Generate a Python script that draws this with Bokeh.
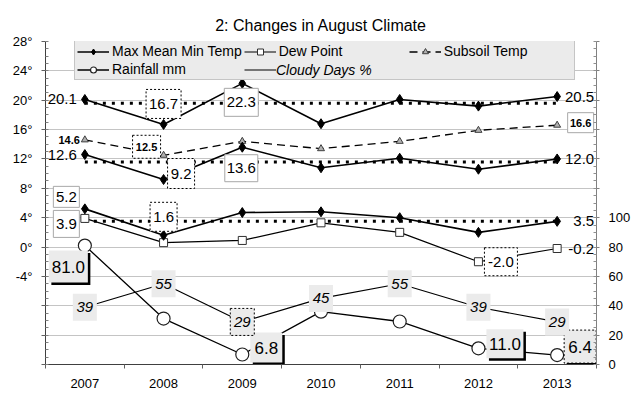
from bokeh.plotting import figure
from bokeh.models import Range1d, LinearAxis, FixedTicker, Legend, LegendItem
from bokeh.core.properties import value
from bokeh.embed import file_html
from bokeh.resources import INLINE

# ---------------- data ----------------
years = ["2007", "2008", "2009", "2010", "2011", "2012", "2013"]
max_temp = [20.1, 16.7, 22.3, 16.8, 20.1, 19.2, 20.5]
mean_temp = [12.6, 9.2, 13.6, 10.8, 12.1, 10.6, 12.0]
min_temp = [5.2, 1.6, 4.7, 4.8, 4.0, 2.0, 3.5]
dew_point = [3.9, 0.6, 0.9, 3.3, 2.0, -2.0, -0.2]
subsoil = [14.6, 12.5, 14.4, 13.4, 14.4, 15.9, 16.6]
rainfall = [81.0, 31.3, 6.8, 36.0, 29.3, 11.0, 6.4]
cloudy = [39, 55, 29, 45, 55, 39, 29]
avg_levels = [19.6, 11.6, 3.5]   # dotted reference lines (max, mean, min)
left_ticks = [-16, -12, -8, -4, 0, 4, 8, 12, 16, 20, 24, 28]
left_labelled = [-4, 0, 4, 8, 12, 16, 20, 24, 28]
right_ticks = [0, 20, 40, 60, 80, 100, 120, 140, 160, 180, 200, 220]
right_labelled = [0, 20, 40, 60, 80, 100]

FONT = value("Liberation Sans")
n = len(years)
idx = list(range(n))
FW, FH = 551, 323
LMIN, LMAX = left_ticks[0], left_ticks[-1]
RMIN, RMAX = right_ticks[0], right_ticks[-1]

p = figure(frame_width=FW, frame_height=FH,
           x_range=Range1d(-0.5, n - 0.5), y_range=Range1d(LMIN, LMAX),
           output_backend="svg", toolbar_location=None,
           min_border_left=45, min_border_right=44, min_border_top=41, min_border_bottom=39,
           title="2: Changes in August Climate")
p.extra_y_ranges = {"right": Range1d(RMIN, RMAX)}
p.background_fill_color = "white"
p.border_fill_color = "white"
p.outline_line_color = None
p.title.align = "center"
p.title.text_font = "Liberation Sans"
p.title.text_font_size = "16px"
p.title.text_font_style = "normal"
p.title.text_color = "black"
p.title.standoff = 16

# x axis
xa = p.xaxis[0]
xa.ticker = FixedTicker(ticks=idx, minor_ticks=[i - 0.5 for i in range(n + 1)])
xa.major_label_overrides = {i: y for i, y in zip(idx, years)}
xa.major_tick_line_color = None
xa.major_tick_out = 0
xa.major_tick_in = 0
xa.minor_tick_out = 4
xa.minor_tick_in = 0
xa.minor_tick_line_color = "#606060"
xa.axis_line_color = "#404040"
xa.major_label_standoff = 10
xa.major_label_text_font = "Liberation Sans"
xa.major_label_text_font_size = "13px"
xa.major_label_text_color = "black"

# left axis
ya = p.yaxis[0]
ya.ticker = FixedTicker(ticks=left_ticks, minor_ticks=list(range(LMIN, LMAX + 1)))
ya.major_label_overrides = {t: (f"{t}\u00b0" if t in left_labelled else "") for t in left_ticks}
ya.major_tick_out = 4
ya.major_tick_in = 0
ya.minor_tick_out = 0
ya.minor_tick_in = 3
ya.axis_line_color = "#404040"
ya.major_tick_line_color = "#606060"
ya.minor_tick_line_color = "#808080"
ya.major_label_standoff = 9
ya.major_label_text_font = "Liberation Sans"
ya.major_label_text_font_size = "13px"
ya.major_label_text_color = "black"

# right axis
ra = LinearAxis(y_range_name="right")
ra.ticker = FixedTicker(ticks=right_ticks, minor_ticks=list(range(RMIN, RMAX + 1, 5)))
ra.major_label_overrides = {t: (str(t) if t in right_labelled else "") for t in right_ticks}
ra.major_tick_out = 3
ra.major_tick_in = 0
ra.minor_tick_out = 0
ra.minor_tick_in = 3
ra.axis_line_color = "#808080"
ra.major_tick_line_color = "#808080"
ra.minor_tick_line_color = "#909090"
ra.major_label_standoff = 9
ra.major_label_text_font = "Liberation Sans"
ra.major_label_text_font_size = "13px"
ra.major_label_text_color = "black"
p.add_layout(ra, "right")

p.xgrid.grid_line_color = None
p.ygrid.ticker = FixedTicker(ticks=left_ticks)
p.ygrid.grid_line_color = "#c4c4c4"
p.ygrid.grid_line_width = 1

# dotted reference lines
for lv in avg_levels:
    p.line([idx[0], idx[-1]], [lv, lv], line_color="black", line_width=3, line_dash="3 6")

# series
r_sub_l = p.line(idx, subsoil, line_color="black", line_width=1.3, line_dash="8 5")
r_sub_s = p.scatter(idx, subsoil, marker="triangle", size=7, fill_color="#b0b0b0", line_color="#404040")
r_dew_l = p.line(idx, dew_point, line_color="black", line_width=1.2)
r_dew_s = p.scatter(idx, dew_point, marker="square", size=8, fill_color="white", line_color="#303030")
r_max_l = None
r_max_s = None
for arr in (max_temp, mean_temp, min_temp):
    l = p.line(idx, arr, line_color="black", line_width=1.6)
    s = p.scatter(idx, arr, marker="diamond", size=10, fill_color="black", line_color="black")
    if r_max_l is None:
        r_max_l, r_max_s = l, s
r_cloud = p.line(idx, cloudy, line_color="black", line_width=1.2, y_range_name="right")
r_ghost = p.line(idx, cloudy, line_alpha=0, y_range_name="right")
r_rain_l = p.line(idx, rainfall, line_color="black", line_width=1.3, y_range_name="right")
r_rain_s = p.scatter(idx, rainfall, marker="circle", size=13, fill_color="white",
                     line_color="#202020", line_width=1.2, y_range_name="right")

# ---------------- labels ----------------
PX_X = n / FW
PX_L = (LMAX - LMIN) / FH
PX_R = (RMAX - RMIN) / FH


def pos(i, v, dx, dy, rng):
    k = PX_R if rng == "right" else PX_L
    return idx[i] + dx * PX_X, v - dy * k, k


def box(i, v, dx, dy, w, h, style, rng="left", shadow=False):
    cx, cy, k = pos(i, v, dx, dy, rng)
    kw = {"y_range_name": "right"} if rng == "right" else {}
    if shadow:
        p.rect(x=[cx + 2.5 * PX_X], y=[cy - 2.5 * k], width=w, height=h,
               width_units="screen", height_units="screen",
               fill_color="black", line_color=None, **kw)
    if style == "max":
        fc, lc, ld = "white", "#a8a8a8", "solid"
    elif style == "min":
        fc, lc, ld = "white", "black", "2 2"
    elif style == "shade":
        fc, lc, ld = "#ebebeb", None, "solid"
    else:
        fc, lc, ld = "#ebebeb", "black", "2 2"
    p.rect(x=[cx], y=[cy], width=w, height=h, width_units="screen", height_units="screen",
           fill_color=fc, line_color=lc, line_dash=ld, line_width=1, **kw)
    return cx, cy


def txt(x, y, t, align="center", size="15px", style="normal", rng="left"):
    kw = {"y_range_name": "right"} if rng == "right" else {}
    p.text(x=[x], y=[y], text=[t], text_align=align, text_baseline="middle",
           text_font=FONT, text_font_size=size, text_font_style=style,
           text_color="black", **kw)


def boxed(arr, i, dx, dy, w, h, style, fmt="{:.1f}", size="15px", fstyle="normal",
          rng="left", shadow=False):
    cx, cy = box(i, arr[i], dx, dy, w, h, style, rng, shadow)
    txt(cx, cy, fmt.format(arr[i]), "center", size, fstyle, rng)


def side(arr, i, dx, size="15px", fstyle="normal", fmt="{:.1f}"):
    x, y, _ = pos(i, arr[i], dx, 0, "left")
    txt(x, y, fmt.format(arr[i]), "right", size, fstyle)


# max temps
side(max_temp, 0, -8)
boxed(max_temp, 1, 0, -20.5, 35, 29, "min")
boxed(max_temp, 2, -1, 19, 34, 28, "max")
side(max_temp, 6, 37)
# mean temps
side(mean_temp, 0, -8)
boxed(mean_temp, 1, 17.5, -6, 27, 30, "min")
boxed(mean_temp, 2, -1, 21, 33, 27, "max")
side(mean_temp, 6, 37)
# min temps
boxed(min_temp, 0, -18.5, -12, 26, 21, "max")
boxed(min_temp, 1, 0, -18.5, 27, 29, "min")
side(min_temp, 6, 37)
# dew point
boxed(dew_point, 0, -18.5, 5.5, 26, 27, "max")
boxed(dew_point, 5, 22.5, 0, 33, 28, "min")
side(dew_point, 6, 37)
# subsoil
side(subsoil, 0, -5, size="11px", fstyle="bold")
boxed(subsoil, 1, -17, -8.5, 28, 23, "min", size="11px", fstyle="bold")
boxed(subsoil, 6, 23.5, -2.5, 26, 20, "max", size="11px", fstyle="bold")
# rainfall
boxed(rainfall, 0, -16.5, 21, 39, 32, "shade", size="17px", rng="right", shadow=True)
boxed(rainfall, 2, 24, -7, 32, 30, "shade", size="17px", rng="right", shadow=True)
boxed(rainfall, 5, 26.5, -4.5, 37, 29, "shade", size="17px", rng="right", shadow=True)
boxed(rainfall, 6, 23, -8.5, 32, 33, "shademin", size="17px", rng="right", shadow=True)
# cloudy days
for i in idx:
    st = "shademin" if i == 2 else "shade"
    boxed(cloudy, i, 0, 0, 24, 27, st, fmt="{:d}", size="15px", fstyle="italic", rng="right")

# ---------------- legend ----------------
# legend grid fills column by column (2 rows)
leg_common = dict(nrows=2, glyph_width=32, glyph_height=15, label_height=15, label_width=128,
                  label_standoff=3, padding=2, spacing=2, margin=0,
                  label_text_font="Liberation Sans", label_text_font_size="14px",
                  label_text_color="black")
legend = Legend(items=[
    LegendItem(label="Max Mean Min Temp", renderers=[r_max_l, r_max_s]),
    LegendItem(label="Rainfall mm", renderers=[r_rain_l, r_rain_s]),
    LegendItem(label="Dew Point", renderers=[r_dew_l, r_dew_s]),
    LegendItem(label=" ", renderers=[r_cloud]),
    LegendItem(label="Subsoil Temp", renderers=[r_sub_l, r_sub_s]),
], location=(29, 284), background_fill_color="#ebebeb", background_fill_alpha=1,
    border_line_color="#a0a0a0", **leg_common)
legend2 = Legend(items=[LegendItem(label="Cloudy Days %", renderers=[r_ghost])],
                 location=(196, 284), background_fill_alpha=0, border_line_color=None,
                 label_text_font_style="italic", **leg_common)
p.add_layout(legend)
p.add_layout(legend2)

open("out.html", "w").write(file_html(p, INLINE))
